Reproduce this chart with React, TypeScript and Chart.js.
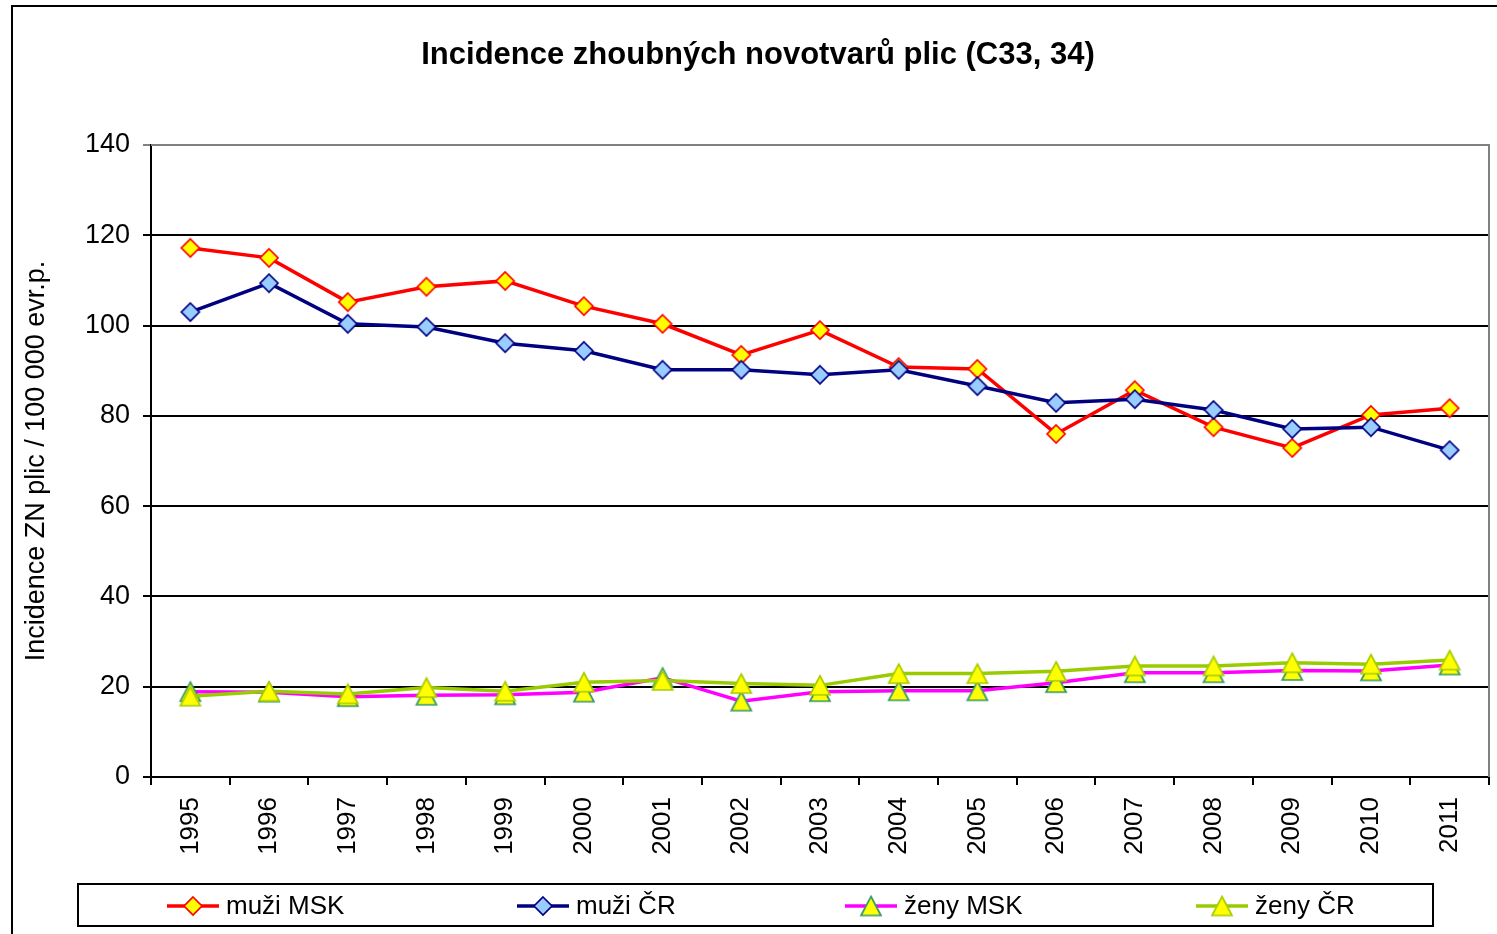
import React, { useEffect, useRef } from 'react';
import { Chart, registerables } from 'chart.js';

Chart.register(...registerables);

const years = ['1995', '1996', '1997', '1998', '1999', '2000', '2001', '2002', '2003', '2004', '2005', '2006', '2007', '2008', '2009', '2010', '2011'];
const muziMSK = [117.2, 115.0, 105.2, 108.6, 109.9, 104.3, 100.4, 93.5, 99.0, 90.8, 90.4, 76.0, 85.7, 77.5, 72.9, 80.2, 81.7];
const muziCR = [103.0, 109.4, 100.4, 99.7, 96.1, 94.4, 90.2, 90.2, 89.1, 90.2, 86.6, 82.9, 83.7, 81.3, 77.1, 77.5, 72.4];
const zenyMSK = [18.9, 18.8, 17.8, 18.1, 18.2, 18.8, 22.0, 16.8, 18.9, 19.1, 19.1, 20.9, 23.1, 23.1, 23.6, 23.5, 24.8];
const zenyCR = [17.9, 19.0, 18.4, 19.8, 19.0, 21.0, 21.4, 20.7, 20.3, 22.9, 22.9, 23.4, 24.6, 24.6, 25.3, 25.0, 25.9];
const seriesNames = ['muži MSK', 'muži ČR', 'ženy MSK', 'ženy ČR'];
const yMin = 0;
const yMax = 140;
const yStep = 20;
const chartTitle = 'Incidence zhoubných novotvarů plic (C33, 34)';
const yAxisTitle = 'Incidence ZN plic / 100 000 evr.p.';

const FONT = '"Liberation Sans", Arial, Helvetica, sans-serif';

function makeMarker(shape: 'diamond' | 'triangle', fill: string, stroke: string, w: number, h: number, lw: number): HTMLCanvasElement {
  const pad = 2;
  const c = document.createElement('canvas');
  c.width = Math.ceil(w + 2 * pad);
  c.height = Math.ceil(h + 2 * pad);
  const ctx = c.getContext('2d')!;
  const cx = c.width / 2;
  const cy = c.height / 2;
  ctx.beginPath();
  if (shape === 'diamond') {
    ctx.moveTo(cx, cy - h / 2);
    ctx.lineTo(cx + w / 2, cy);
    ctx.lineTo(cx, cy + h / 2);
    ctx.lineTo(cx - w / 2, cy);
  } else {
    ctx.moveTo(cx, cy - h / 2);
    ctx.lineTo(cx + w / 2, cy + h / 2);
    ctx.lineTo(cx - w / 2, cy + h / 2);
  }
  ctx.closePath();
  ctx.fillStyle = fill;
  ctx.fill();
  ctx.lineWidth = lw;
  ctx.strokeStyle = stroke;
  ctx.lineJoin = 'miter';
  ctx.stroke();
  return c;
}

export default function App() {
  const canvasRef = useRef<HTMLCanvasElement | null>(null);

  useEffect(() => {
    document.body.style.margin = '0';
    const canvas = canvasRef.current;
    if (!canvas) return;

    Chart.defaults.font.family = FONT;
    Chart.defaults.color = '#000';

    const mk = [
      makeMarker('diamond', '#FFFF00', '#FF0000', 18, 18, 1.7),
      makeMarker('diamond', '#99CCFF', '#000080', 18, 18, 1.7),
      makeMarker('triangle', '#FFFF00', '#339966', 20, 19, 1.7),
      makeMarker('triangle', '#FFFF00', '#A8CC00', 20, 19, 1.7),
    ];
    const lineColors = ['#FF0000', '#000080', '#FF00FF', '#99CC00'];
    const values = [muziMSK, muziCR, zenyMSK, zenyCR];

    const decor = {
      id: 'decor',
      beforeDatasetsDraw(chart: any) {
        const { ctx, chartArea } = chart;
        ctx.save();
        ctx.strokeStyle = '#808080';
        ctx.lineWidth = 2;
        ctx.beginPath();
        ctx.moveTo(chartArea.left, chartArea.top);
        ctx.lineTo(chartArea.right, chartArea.top);
        ctx.lineTo(chartArea.right, chartArea.bottom);
        ctx.stroke();
        ctx.restore();
      },
      afterDraw(chart: any) {
        const { ctx } = chart;
        ctx.save();
        // outer frame
        ctx.strokeStyle = '#000';
        ctx.lineWidth = 2;
        ctx.strokeRect(12, 6, 1492, 1000);
        // title
        ctx.fillStyle = '#000';
        ctx.font = `bold 31px ${FONT}`;
        ctx.textAlign = 'center';
        ctx.textBaseline = 'middle';
        ctx.fillText(chartTitle, 758, 55);
        // legend box
        ctx.lineWidth = 2;
        ctx.strokeStyle = '#000';
        ctx.strokeRect(78, 884, 1355, 42);
        const xs = [167, 517, 845, 1196];
        const ly = 906;
        ctx.font = `26px ${FONT}`;
        ctx.textAlign = 'left';
        seriesNames.forEach((name, i) => {
          const x0 = xs[i];
          ctx.strokeStyle = lineColors[i];
          ctx.lineWidth = 3.5;
          ctx.beginPath();
          ctx.moveTo(x0, ly);
          ctx.lineTo(x0 + 52, ly);
          ctx.stroke();
          const m = mk[i];
          ctx.drawImage(m, x0 + 26 - m.width / 2, ly - m.height / 2);
          ctx.fillStyle = '#000';
          ctx.fillText(name, x0 + 59, ly + 1);
        });
        ctx.restore();
      },
    };

    const chart = new Chart(canvas, {
      type: 'line',
      data: {
        labels: years,
        datasets: values.map((v, i) => ({
          label: seriesNames[i],
          data: v,
          borderColor: lineColors[i],
          backgroundColor: lineColors[i],
          borderWidth: 3.5,
          pointStyle: mk[i] as any,
          pointRadius: 10,
          pointHoverRadius: 10,
          tension: 0,
          fill: false,
          clip: false,
          order: 3 - i,
        })),
      },
      options: {
        responsive: false,
        maintainAspectRatio: false,
        animation: false,
        layout: { autoPadding: false, padding: { left: 0, top: 145, right: 8, bottom: 0 } },
        plugins: {
          legend: { display: false },
          title: { display: false },
          tooltip: { enabled: false },
        },
        scales: {
          x: {
            offset: true,
            grid: { offset: true, drawOnChartArea: false, color: '#000', lineWidth: 2, tickLength: 8 },
            border: { color: '#000', width: 2 },
            ticks: { minRotation: 90, maxRotation: 90, padding: 12, font: { size: 26 }, color: '#000', autoSkip: false },
            afterFit: (s: any) => { s.height = 157; s.paddingLeft = 0; s.paddingRight = 0; },
          },
          y: {
            min: yMin,
            max: yMax,
            ticks: { stepSize: yStep, padding: 13, font: { size: 27 }, color: '#000' },
            grid: {
              color: (c: any) => (c.tick && c.tick.value === yMax ? '#808080' : '#000'),
              lineWidth: 2,
              tickLength: 8,
            },
            border: { color: '#000', width: 2 },
            title: { display: true, text: yAxisTitle, font: { size: 27 }, color: '#000', padding: { top: 20, bottom: 0 } },
            afterFit: (s: any) => { s.width = 151; s.paddingTop = 0; s.paddingBottom = 0; },
          },
        },
      } as any,
      plugins: [decor],
    });

    return () => chart.destroy();
  }, []);

  return (
    <div style={{ position: 'absolute', left: 0, top: 0, width: 1497, height: 934, background: '#fff' }}>
      <canvas ref={canvasRef} width={1497} height={934} style={{ display: 'block', width: 1497, height: 934 }} />
    </div>
  );
}
